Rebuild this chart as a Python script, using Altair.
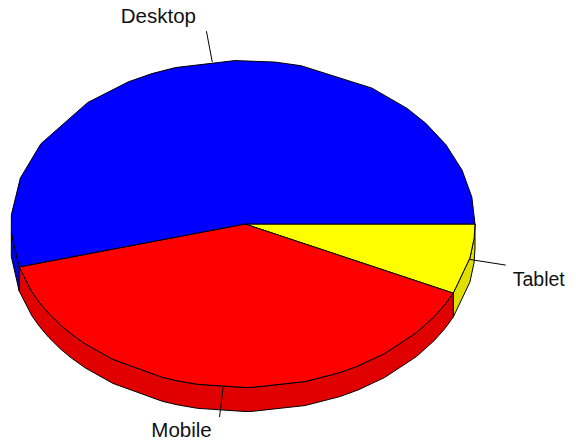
import altair as alt
import math
import pandas as pd

categories = ["Tablet", "Mobile", "Desktop"]
shares = [6.95, 38.82, 54.23]
top_colors = ["#ffff00", "#ff0000", "#0000ff"]
side_colors = ["#e0e000", "#e00000", "#0000e0"]
leader_reach = [1.16, 1.185, 1.19]
label_offsets = [(7, 21), (-38, 20), (-48, -8)]
label_sizes = [19.5, 20.5, 20.5]
rim_angles = [
    5.0, 12.0, 29.6, 34.5, 41.6, 52.4, 60.3, 65.4, 74.5, 87.8, 89.5, 101.3,
    106.5, 110.4, 124.1, 132.8, 137.8, 141.9, 146.9, 151.3, 155.5, 177.0,
    183.2, 196.3, 209.4, 228.0, 240.4, 246.9, 253.1, 268.0, 277.9, 284.5,
    303.8, 315.0, 322.0, 331.0, 340.8, 350.5,
]

RX, RY = 232.0, 163.5
CX, CY = 243.0, 224.0
W, H = 560, 434
DEPTH = 24 / RY
APEX_X = 2 / RX
SIDE_LIMIT = 177.0

x_scale = alt.Scale(domain=[(8 - CX) / RX, (8 + W - CX) / RX], nice=False, zero=False)
y_scale = alt.Scale(domain=[(8 + H - CY) / RY, (8 - CY) / RY], nice=False, zero=False)


def angles(a0, a1):
    return [a0] + [a for a in rim_angles if a0 < a < a1] + [a1]


def polygon_layer(points, fill):
    rows = [{"x": p[0], "y": p[1], "i": i} for i, p in enumerate(points + points[:1])]
    return (
        alt.Chart(pd.DataFrame(rows))
        .mark_line(fill=fill, stroke="black", strokeWidth=1, strokeJoin="round", clip=False)
        .encode(
            x=alt.X("x:Q", scale=x_scale, axis=None),
            y=alt.Y("y:Q", scale=y_scale, axis=None),
            order="i:Q",
        )
    )


def pt(a, dy=0.0):
    r = math.radians(a)
    return (math.cos(r), math.sin(r) + dy)


layers_side, layers_top, layers_lead, layers_text = [], [], [], []
start = 0.0
for name, share, top, side, reach, (dx, dy), size in zip(
    categories, shares, top_colors, side_colors, leader_reach, label_offsets, label_sizes
):
    end = start + share * 3.6
    arc = angles(start, end)
    layers_top.append(polygon_layer([(APEX_X, 0.0)] + [pt(a) for a in arc], top))

    s0, s1 = start, min(end, SIDE_LIMIT)
    if s0 < s1:
        front = angles(s0, s1)
        layers_side.append(
            polygon_layer([pt(a) for a in front] + [pt(a, DEPTH) for a in reversed(front)], side)
        )

    mid = (start + end) / 2
    mx, my = pt(mid)
    lead = pd.DataFrame(
        {"x": [mx], "y": [my], "x2": [mx * reach], "y2": [my * reach], "label": [name]}
    )
    base = alt.Chart(lead)
    layers_lead.append(
        base.mark_rule(color="black", strokeWidth=1).encode(
            x=alt.X("x:Q", scale=x_scale, axis=None),
            y=alt.Y("y:Q", scale=y_scale, axis=None),
            x2="x2:Q",
            y2="y2:Q",
        )
    )
    layers_text.append(
        base.mark_text(
            font="Liberation Sans", fontSize=size, color="#111111", dx=dx, dy=dy,
            align="left" if name == "Tablet" else "center", baseline="alphabetic",
        ).encode(
            x=alt.X("x2:Q", scale=x_scale, axis=None),
            y=alt.Y("y2:Q", scale=y_scale, axis=None),
            text="label:N",
        )
    )
    start = end

chart = (
    alt.layer(*layers_side, *layers_top, *layers_lead, *layers_text)
    .properties(width=W, height=H, padding=0, autosize=alt.AutoSizeParams(type="none"))
    .configure_view(stroke=None)
)
chart.save("out.html", embed_options={"renderer": "svg", "actions": False})
